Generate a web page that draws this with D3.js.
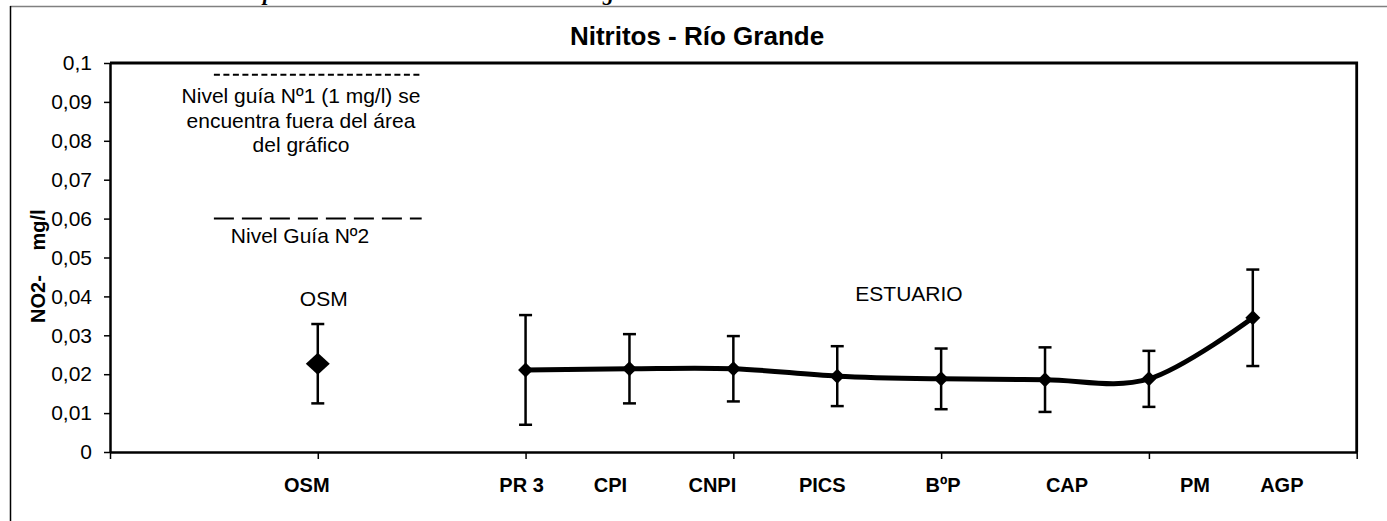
<!DOCTYPE html>
<html>
<head>
<meta charset="utf-8">
<script src="https://cdn.jsdelivr.net/npm/d3@7"></script>
<style>
  html, body { margin: 0; padding: 0; background: #fff; }
  svg { display: block; }
  text { font-family: "Liberation Sans", Arial, sans-serif; fill: #000; }
</style>
</head>
<body>
<svg id="chart" width="1387" height="521"></svg>
<script>
// ---------------- DATA ----------------
const title = "Nitritos - Río Grande";
// category slots along the x axis (blank slots keep the original spacing)
const categories = ["", "", "OSM", "", "PR 3", "CPI", "CNPI", "PICS", "BºP", "CAP", "PM", "AGP", ""];
const osmStations = ["OSM"];
const osmMeans = [0.0227];
const osmErrors = [0.0102];
const estuaryStations = ["PR 3", "CPI", "CNPI", "PICS", "BºP", "CAP", "PM", "AGP"];
const estuaryMeans = [0.0211, 0.0214, 0.0214, 0.0195, 0.0188, 0.0186, 0.0188, 0.0345];
const estuaryErrors = [0.0141, 0.0089, 0.0084, 0.0077, 0.0078, 0.0083, 0.0072, 0.0124];
const yTicks = [0, 0.01, 0.02, 0.03, 0.04, 0.05, 0.06, 0.07, 0.08, 0.09, 0.1];
const yTickLabels = ["0", "0,01", "0,02", "0,03", "0,04", "0,05", "0,06", "0,07", "0,08", "0,09", "0,1"];
const xTickLabels = ["OSM", "PR 3", "CPI", "CNPI", "PICS", "BºP", "CAP", "PM", "AGP"];
const guide1Value = 0.097;   // drawn marker for guide level 1 (outside area)
const guide2Value = 0.06;
const guide1Text = ["Nivel guía Nº1 (1 mg/l) se", "encuentra fuera del área", "del gráfico"];
const guide2Text = "Nivel Guía Nº2";
const yTitleParts = ["NO2-", "mg/l"];

// ---------------- LAYOUT ----------------
const svg = d3.select("#chart");
const plot = { left: 110, right: 1356.7, top: 63, bottom: 452 };

const x = d3.scaleLinear().domain([0, categories.length - 1]).range([plot.left, plot.right]);
const y = d3.scaleLinear().domain([0, 0.1]).range([plot.bottom, plot.top]);
const xi = name => x(categories.indexOf(name));

// outer frame (chart object border, partly cropped)
svg.append("line").attr("x1", 10).attr("x2", 1387).attr("y1", 6.5).attr("y2", 6.5)
  .attr("stroke", "#808080").attr("stroke-width", 1.5);
svg.append("line").attr("x1", 10.5).attr("x2", 10.5).attr("y1", 6).attr("y2", 521)
  .attr("stroke", "#000").attr("stroke-width", 1.5);

// fragments of the document heading above the chart (descenders only, cropped as in the source)
svg.append("text").attr("x", 263).attr("y", 0)
  .attr("font-style", "italic").attr("font-weight", "bold").attr("font-size", 22).style("font-family", "Liberation Serif").text("p");
svg.append("text").attr("x", 603).attr("y", 0)
  .attr("font-style", "italic").attr("font-weight", "bold").attr("font-size", 22).style("font-family", "Liberation Serif").text("g");

// title
svg.append("text").attr("x", 697).attr("y", 45).attr("text-anchor", "middle")
  .attr("font-weight", "bold").attr("font-size", 26).text(title);

// plot area border (top and right)
svg.append("path")
  .attr("d", `M${plot.left},${y(0.1)}H${plot.right}V${plot.bottom}`)
  .attr("fill", "none").attr("stroke", "#000").attr("stroke-width", 2.8);

// y axis
const yAxis = svg.append("g").attr("transform", `translate(${plot.left},0)`)
  .call(d3.axisLeft(y).tickValues(yTicks).tickFormat((d, i) => yTickLabels[i]).tickSize(6).tickPadding(12).tickSizeOuter(0));
yAxis.select(".domain").attr("stroke-width", 2.5);
yAxis.selectAll(".tick line").attr("stroke-width", 1.5);
yAxis.selectAll("text").attr("font-family", "Liberation Sans, Arial, sans-serif").attr("font-size", 21).attr("fill", "#000");

// x axis
const xAxis = svg.append("g").attr("transform", `translate(0,${plot.bottom})`)
  .call(d3.axisBottom(x).tickValues(d3.range(0, categories.length, 2)).tickFormat("").tickSize(7).tickSizeOuter(0));
xAxis.select(".domain").attr("stroke-width", 2.5);
xAxis.selectAll(".tick line").attr("stroke-width", 1.5);

// x tick labels (placed near their stations as in the original)
const labelNudge = [-11, -4, -19, -21, -15, 2, 22, 46, 29];
svg.append("g").selectAll("text").data(xTickLabels).join("text")
  .attr("x", (d, i) => xi(d) + labelNudge[i])
  .attr("y", 492)
  .attr("text-anchor", "middle").attr("font-weight", "bold").attr("font-size", 20)
  .text(d => d);

// y axis title
yTitleParts.forEach((t, i) => {
  const cy = i === 0 ? 299 : 230;
  svg.append("text").attr("transform", `translate(45,${cy}) rotate(-90)`)
    .attr("text-anchor", "middle").attr("font-weight", "bold").attr("font-size", 20).text(t);
});

// guide lines
svg.append("line").attr("x1", x(1)).attr("x2", x(3)).attr("y1", y(guide1Value)).attr("y2", y(guide1Value))
  .attr("stroke", "#000").attr("stroke-width", 2).attr("stroke-dasharray", "6,3.5");
svg.append("line").attr("x1", x(1)).attr("x2", x(3)).attr("y1", y(guide2Value)).attr("y2", y(guide2Value))
  .attr("stroke", "#000").attr("stroke-width", 2).attr("stroke-dasharray", "20,8");

guide1Text.forEach((t, i) => {
  svg.append("text").attr("x", 301).attr("y", 103 + i * 24.5).attr("text-anchor", "middle")
    .attr("font-size", 21).text(t);
});
svg.append("text").attr("x", 300).attr("y", 243).attr("text-anchor", "middle").attr("font-size", 21).text(guide2Text);

// group annotations
svg.append("text").attr("x", xi("OSM") + 6).attr("y", 306).attr("text-anchor", "middle").attr("font-size", 21).text("OSM");
svg.append("text").attr("x", 909).attr("y", 301).attr("text-anchor", "middle").attr("font-size", 21).text("ESTUARIO");

// error bars
function errorBars(names, means, errs) {
  const g = svg.append("g").attr("stroke", "#000").attr("stroke-width", 2.5).attr("fill", "none");
  names.forEach((n, i) => {
    const cx = xi(n), top = y(means[i] + errs[i]), bot = y(means[i] - errs[i]);
    g.append("line").attr("x1", cx).attr("x2", cx).attr("y1", top).attr("y2", bot);
    g.append("line").attr("x1", cx - 6.5).attr("x2", cx + 6.5).attr("y1", top).attr("y2", top);
    g.append("line").attr("x1", cx - 6.5).attr("x2", cx + 6.5).attr("y1", bot).attr("y2", bot);
  });
}
errorBars(osmStations, osmMeans, osmErrors);
errorBars(estuaryStations, estuaryMeans, estuaryErrors);

// smoothed estuary line
const line = d3.line().x(d => xi(d.n)).y(d => y(d.v)).curve(d3.curveCardinal.tension(0));
svg.append("path")
  .datum(estuaryStations.map((n, i) => ({ n, v: estuaryMeans[i] })))
  .attr("d", line).attr("fill", "none").attr("stroke", "#000").attr("stroke-width", 5)
  .attr("stroke-linejoin", "round").attr("stroke-linecap", "round");

// markers
function diamond(cx, cy, hw, hh) {
  return `M${cx},${cy - hh}L${cx + hw},${cy}L${cx},${cy + hh}L${cx - hw},${cy}Z`;
}
svg.append("g").selectAll("path").data(estuaryStations).join("path")
  .attr("d", (d, i) => diamond(xi(d), y(estuaryMeans[i]), 7.5, 7.5)).attr("fill", "#000");
svg.append("g").selectAll("path").data(osmStations).join("path")
  .attr("d", (d, i) => diamond(xi(d), y(osmMeans[i]), 12, 11)).attr("fill", "#000");
</script>
</body>
</html>
